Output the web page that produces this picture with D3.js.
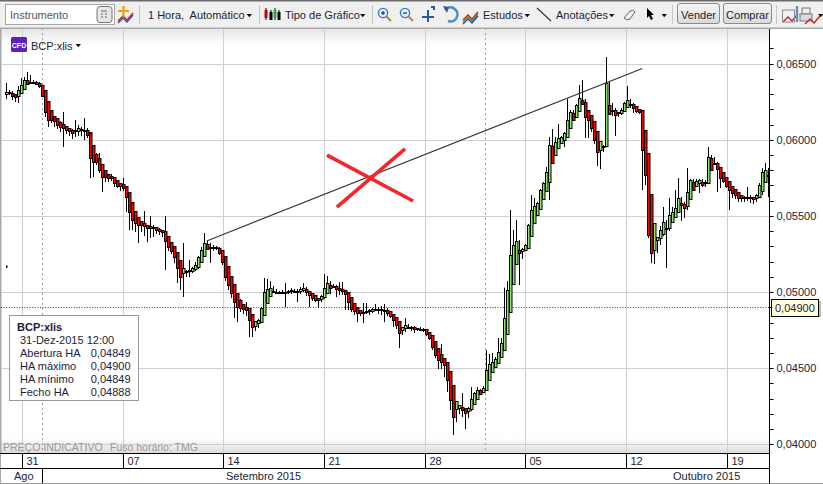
<!DOCTYPE html>
<html><head><meta charset="utf-8">
<script src="https://d3js.org/d3.v7.min.js"></script>
<style>html,body{margin:0;padding:0;background:#fff}svg{display:block}text{font-family:"Liberation Sans",sans-serif;font-size:11px;fill:#1c2433}</style>
</head><body><svg id="c" width="823" height="484"></svg>
<script>
// Closing prices in units of 0.00001 (one candle per slot)
const closes=[6314,6314,6288,6281,6327,6360,6393,6393,6380,6380,
6367,6353,6294,6183,6130,6124,6124,6097,6084,6078,
6064,6058,6045,6064,6078,6064,6064,6032,5880,5854,
5854,5802,5756,5756,5749,5749,5716,5697,5697,5683,
5624,5526,5473,5453,5440,5440,5434,5427,5421,5421,
5407,5401,5394,5335,5296,5270,5230,5158,5099,5125,
5131,5145,5158,5177,5230,5276,5322,5315,5296,5296,
5289,5263,5197,5099,5046,4994,4934,4902,4895,4888,
4888,4816,4770,4777,4816,4895,5000,5020,5026,5007,
5000,5000,5000,5000,5007,5013,5007,5000,5020,5026,
5000,4980,4961,4947,4947,4974,5026,5059,5046,5040,
5020,5013,5007,4987,4934,4888,4875,4862,4862,4869,
4875,4882,4888,4888,4888,4882,4882,4862,4842,4816,
4783,4731,4750,4783,4770,4764,4757,4757,4757,4750,
4724,4698,4639,4586,4553,4540,4520,4422,4291,4179,
4231,4238,4225,4205,4238,4297,4336,4356,4356,4369,
4488,4527,4540,4560,4606,4665,4829,5013,5243,5309,
5335,5276,5283,5309,5440,5539,5565,5585,5670,5716,
5788,5966,5959,5986,6012,6018,6045,6130,6183,6176,
6229,6275,6262,6150,6130,6078,5999,5920,5933,5959,
6373,6229,6196,6163,6176,6196,6242,6262,6229,6209,
6189,6183,5933,5769,5375,5256,5276,5342,5407,5460,
5421,5506,5526,5552,5618,5585,5552,5657,5736,5723,
5730,5736,5703,5723,5887,5880,5848,5802,5749,5730,
5697,5670,5651,5637,5618,5618,5624,5624,5618,5611,
5637,5703,5788,5802,5769];
// Upper wick above the body, lower wick below the body (same units)
const upperWicks=[59,13,7,7,26,46,20,53,33,13,
7,13,7,7,7,20,13,7,26,99,
7,13,13,66,20,7,79,13,7,7,
59,59,7,7,20,26,7,13,7,53,
7,7,7,7,7,13,92,7,72,20,
7,13,7,105,7,7,13,7,7,197,
13,66,7,20,7,20,66,13,7,13,
7,7,7,7,7,7,7,13,53,13,
46,7,7,7,7,7,92,66,46,13,
13,7,13,59,7,13,7,13,13,33,
7,7,7,7,7,7,92,46,13,7,
7,46,53,7,7,7,7,7,7,59,
53,7,7,33,13,20,40,13,7,7,
7,7,7,46,7,7,13,7,13,7,
7,7,7,7,7,105,13,7,7,7,
13,13,99,13,7,79,7,20,7,13,
131,66,59,13,92,33,200,59,296,99,
138,7,7,7,7,99,53,7,7,7,
33,53,105,33,92,7,7,138,13,13,
7,85,118,7,7,7,7,7,7,7,
171,7,13,13,7,13,7,92,7,13,
7,7,7,7,7,7,7,13,26,99,
13,112,33,118,131,7,7,158,7,7,
13,7,7,13,66,13,7,7,7,13,
7,7,13,7,13,7,7,66,13,7,
7,13,26,46,13];
const lowerWicks=[33,20,26,33,40,20,33,13,7,13,
7,13,13,33,46,13,40,26,33,125,
26,33,40,26,40,40,66,20,131,99,
20,20,99,33,26,20,26,13,33,20,
99,118,66,59,118,46,66,99,66,59,
26,26,33,190,26,20,40,99,85,131,
26,33,20,20,26,26,13,33,105,26,
13,20,20,26,33,33,105,99,26,33,
46,112,66,26,13,20,20,13,13,13,
7,13,13,99,13,20,13,66,13,20,
26,79,20,13,46,13,20,33,59,13,
53,33,26,105,53,20,26,59,20,66,
13,26,20,13,33,33,79,20,13,46,
26,99,13,13,13,20,26,13,13,13,
13,13,20,20,59,46,79,79,66,118,
33,33,46,105,33,20,20,13,20,20,
7,20,13,13,20,13,7,7,13,7,
7,230,59,7,20,7,7,7,7,13,
46,184,13,20,13,13,66,7,13,13,
7,7,7,138,118,26,26,92,112,13,
7,20,40,138,13,13,13,13,20,33,
13,13,263,66,20,66,72,20,33,40,
263,20,13,20,20,118,66,13,13,13,
7,79,13,13,13,7,13,145,66,13,
13,131,33,26,26,26,26,26,33,33,
20,20,66,13,145];
const dayLabels=["31","07","14","21","28","05","12","19"];
const daySlots=[5.5,39.17,72.5,106.17,139.83,173.33,206.67,240.5];
const dashedSlots=[12.17,159.83];
const priceMajor=[4000,4500,5000,5500,6000,6500];
const priceMinor=[4100,4200,4300,4400,4600,4700,4800,4900,5100,5200,5300,5400,5600,5700,5800,5900,6100,6200,6300,6400,6600];
const currentPrice=4900;
const trendSlots=[66.9,212.1], trendPrices=[5336,6468];
const crossA={s:[107,135.7],p:[5900,5598]}, crossB={s:[110.3,133],p:[5558,5940]};
const infoRows=[["Abertura HA","0,04849"],["HA máximo","0,04900"],["HA mínimo","0,04849"],["Fecho HA","0,04888"]];

const svg=d3.select("#c");
const x=d3.scaleLinear().domain([0,254]).range([6,768]);
const y=d3.scaleLinear().domain([4000,6500]).range([444.3,63.7]);
const fmt=v=>(v/1e5).toFixed(5).replace(".",",");
// Heikin-Ashi opens: midpoint of the previous body
let prevO=6320;
const bars=closes.map((c,i)=>{
  const pc=i?closes[i-1]:6300;
  const o=i?(prevO+pc)/2:pc; prevO=o;
  return {i,o,c,h:Math.max(pc,c)+upperWicks[i],l:Math.min(pc,c)-lowerWicks[i],up:c>pc};
});
const defs=svg.append("defs");
const grad=(id,a,b)=>{const g=defs.append("linearGradient").attr("id",id).attr("x1",0).attr("x2",0).attr("y1",0).attr("y2",1);g.append("stop").attr("offset",0).attr("stop-color",a);g.append("stop").attr("offset",1).attr("stop-color",b);};
grad("gt","#e4e4e4","#ffffff");grad("gb","#ffffff","#dcdcdc");grad("btn","#f6f6f6","#dadada");
defs.append("clipPath").attr("id","plot").append("rect").attr("x",1).attr("y",28).attr("width",768).attr("height",425);

// Background
svg.append("rect").attr("x",0).attr("y",28).attr("width",770).attr("height",17).attr("fill","url(#gt)");
svg.append("rect").attr("x",0).attr("y",438).attr("width",770).attr("height",15).attr("fill","url(#gb)");
svg.append("rect").attr("x",0).attr("y",28).attr("width",1.5).attr("height",456).attr("fill","#a8a8a8");

// Grid
const grid=svg.append("g").attr("stroke","#cfcfcf").attr("stroke-width",1);
grid.selectAll(".h").data(priceMajor).join("line").attr("x1",1).attr("x2",769).attr("y1",d=>Math.round(y(d))+.5).attr("y2",d=>Math.round(y(d))+.5);
grid.selectAll(".v").data(daySlots).join("line").attr("y1",28).attr("y2",453).attr("x1",d=>Math.floor(x(d))+.5).attr("x2",d=>Math.floor(x(d))+.5);
svg.append("g").attr("stroke","#a0a0a0").attr("stroke-dasharray","2,3").selectAll("line").data(dashedSlots).join("line")
 .attr("y1",28).attr("y2",453).attr("x1",d=>Math.floor(x(d))+.5).attr("x2",d=>Math.floor(x(d))+.5);

// Current price line
svg.append("line").attr("x1",1).attr("x2",769).attr("y1",Math.round(y(currentPrice))+.5).attr("y2",Math.round(y(currentPrice))+.5).attr("stroke","#c00000").attr("stroke-dasharray","1,1.6");

// Candles
const cg=svg.append("g").attr("clip-path","url(#plot)");
const cs=cg.selectAll("g").data(bars).join("g");
cs.append("line").attr("x1",d=>Math.round(x(d.i))+.5).attr("x2",d=>Math.round(x(d.i))+.5).attr("y1",d=>y(d.h)).attr("y2",d=>y(d.l)).attr("stroke","#000");
cs.append("rect").attr("x",d=>Math.round(x(d.i))-.5).attr("width",2.5)
 .attr("y",d=>Math.round(y(Math.max(d.o,d.c)))+.5).attr("height",d=>Math.max(1,Math.round(Math.abs(y(d.o)-y(d.c)))))
 .attr("fill",d=>d.up?"#8ce868":"#ff0000").attr("stroke","#000");
svg.append("rect").attr("x",x(0)).attr("y",y(5175)).attr("width",1.5).attr("height",2.5).attr("fill","#000");

// Annotations
svg.append("line").attr("x1",x(trendSlots[0])).attr("x2",x(trendSlots[1])).attr("y1",y(trendPrices[0])).attr("y2",y(trendPrices[1])).attr("stroke","#333").attr("stroke-width",1.1);
[crossA,crossB].forEach(k=>svg.append("line").attr("x1",x(k.s[0])).attr("x2",x(k.s[1])).attr("y1",y(k.p[0])).attr("y2",y(k.p[1])).attr("stroke","#f4262c").attr("stroke-width",3.6));

// Y axis
const ax=d3.axisRight(y).tickValues(priceMajor).tickFormat(fmt).tickSize(4).tickPadding(3);
const axg=svg.append("g").attr("transform","translate(769.5,0)").call(ax);
axg.select(".domain").remove();
axg.selectAll("line").attr("stroke","#000");
axg.selectAll("text").attr("x",7).style("font-size","11px").style("font-family","Liberation Sans");
axg.selectAll(".tick").attr("transform",d=>`translate(0,${Math.round(y(d))+.5})`);
svg.append("g").attr("transform","translate(769.5,0)").selectAll("line").data(priceMinor).join("line")
 .attr("x1",0).attr("x2",4).attr("y1",d=>Math.round(y(d))+.5).attr("y2",d=>Math.round(y(d))+.5).attr("stroke","#000");
svg.append("line").attr("x1",769.5).attr("x2",769.5).attr("y1",28).attr("y2",484).attr("stroke","#000");

// Price flag
svg.append("rect").attr("x",771.5).attr("y",299.5).attr("width",47).attr("height",17).attr("fill","#ffffdc").attr("stroke","#000");
svg.append("rect").attr("x",819).attr("y",301).attr("width",2).attr("height",16).attr("fill","#bbb");
svg.append("text").attr("x",775).attr("y",312).text(fmt(currentPrice));

// Date strips
svg.append("rect").attr("x",1).attr("y",453).attr("width",768).attr("height",31).attr("fill","#fff");
[453.5,468.5].forEach(v=>svg.append("line").attr("x1",0).attr("x2",769).attr("y1",v).attr("y2",v).attr("stroke","#000"));
svg.append("line").attr("x1",0).attr("x2",823).attr("y1",483.5).attr("y2",483.5).attr("stroke","#999");
svg.append("line").attr("x1",769.5).attr("x2",769.5).attr("y1",453).attr("y2",484).attr("stroke","#000");
const dayG=svg.append("g").selectAll("g").data(daySlots).join("g").attr("transform",d=>`translate(${Math.floor(x(d))+.5},0)`);
dayG.append("line").attr("y1",453).attr("y2",468).attr("stroke","#000");
dayG.append("text").attr("x",4).attr("y",465).text((d,i)=>dayLabels[i]);
svg.append("line").attr("x1",42.5).attr("x2",42.5).attr("y1",468).attr("y2",483).attr("stroke","#000");
svg.append("text").attr("x",14).attr("y",480).text("Ago");
svg.append("text").attr("x",226).attr("y",480).text("Setembro 2015");
svg.append("text").attr("x",673).attr("y",480).text("Outubro 2015");
svg.append("text").attr("x",3).attr("y",451).style("fill","#9a9a9a").style("font-size","10.5px").text("PREÇO INDICATIVO");
svg.append("text").attr("x",110).attr("y",451).style("fill","#9a9a9a").style("font-size","10.5px").text("Fuso horário: TMG");

// Info box
svg.append("rect").attr("x",9.5).attr("y",315.5).attr("width",129).attr("height",85).attr("fill","#fff").attr("stroke","#999");
svg.append("text").attr("x",17).attr("y",331).style("font-weight","bold").text("BCP:xlis");
svg.append("text").attr("x",20).attr("y",344).text("31-Dez-2015 12:00");
infoRows.forEach((r,i)=>{const b=357+i*13;
 svg.append("text").attr("x",20).attr("y",b).text(r[0]);
 svg.append("text").attr("x",130.5).attr("y",b).attr("text-anchor","end").text(r[1]);});

// Series header
svg.append("rect").attr("x",11).attr("y",37).attr("width",16).attr("height",15).attr("rx",1.5).attr("fill","#5a22b8");
svg.append("text").attr("x",19).attr("y",47.5).attr("text-anchor","middle").style("fill","#fff").style("font-size","7px").style("font-weight","bold").text("CFD");
svg.append("text").attr("x",31).attr("y",50).text("BCP:xlis");
const tri=(px,py)=>svg.append("path").attr("d",`M${px},${py}h5.5l-2.75,3.2z`).attr("fill","#111");
tri(75.5,44);

// Toolbar
svg.append("rect").attr("width",823).attr("height",28).attr("fill","#f0f0f0");
svg.append("rect").attr("width",823).attr("height",1.5).attr("fill","#6a6a6a");
svg.append("rect").attr("y",27.5).attr("width",823).attr("height",1.5).attr("fill","#a9a9a9");
svg.append("rect").attr("x",5.5).attr("y",4.5).attr("width",109).attr("height",20).attr("fill","#fff").attr("stroke","#a8a8a8");
svg.append("text").attr("x",10).attr("y",19).style("fill","#555").text("Instrumento");
svg.append("rect").attr("x",97).attr("y",6.5).attr("width",15).attr("height",16).attr("rx",3).attr("fill","#e6e6e6").attr("stroke","#777");
svg.append("path").attr("d","M101,14h2M105,14h2M101,17h2M105,17h2M101,11h6").attr("stroke","#666");
[139.5,259.5,372.5,672.5,776.5].forEach(v=>svg.append("line").attr("x1",v).attr("x2",v).attr("y1",5).attr("y2",24).attr("stroke","#c8c8c8"));
const labels=[["1 Hora,  Automático",148],["Tipo de Gráfico",285],["Estudos",483],["Anotações",556]];
labels.forEach(l=>svg.append("text").attr("x",l[1]).attr("y",19).style("white-space","pre").text(l[0]));
[[246.5,14],[360,14],[524.5,14],[609,14],[661.5,14],[818,14]].forEach(t=>tri(t[0],t[1]));
// small chart icons
const zig=(px,py,c)=>svg.append("polyline").attr("points",`${px},${py} ${px+5},${py-5} ${px+9},${py-1} ${px+15},${py-8}`).attr("fill","none").attr("stroke",c).attr("stroke-width",1.4);
zig(118,21,"#c22");zig(118,23,"#2a50a8");
svg.append("path").attr("d","M118,11h11M123.5,6v11").attr("stroke","#e8a400").attr("stroke-width",2.2);
zig(463,20,"#c22");zig(463,22,"#3a9a40");zig(463,24,"#2a50a8");
[[266,"#c00"],[271,"#000"],[275,"#3a3"],[279,"#000"]].forEach((t,i)=>{
 svg.append("line").attr("x1",t[0]).attr("x2",t[0]).attr("y1",8+(i%2)*2).attr("y2",20).attr("stroke","#000");
 svg.append("rect").attr("x",t[0]-1.5).attr("y",10+(i%2)*2).attr("width",3).attr("height",8).attr("fill",t[1]);});
const lens=(px,c)=>{svg.append("circle").attr("cx",px+5).attr("cy",13).attr("r",4.6).attr("fill","#dff0ff").attr("stroke",c).attr("stroke-width",1.4);
 svg.append("line").attr("x1",px+8.5).attr("y1",16.5).attr("x2",px+13).attr("y2",21).attr("stroke","#b08a3a").attr("stroke-width",2);
 svg.append("path").attr("d",`M${px+3},13h4`).attr("stroke","#1a3f9a").attr("stroke-width",1.3);};
lens(378,"#3a78c8");svg.append("path").attr("d","M383,11v4").attr("stroke","#1a3f9a").attr("stroke-width",1.3);lens(400,"#3a78c8");
svg.append("path").attr("d","M422,17h12M428,10v12M431,7h3v3").attr("stroke","#2a5aa0").attr("stroke-width",2).attr("fill","none");
svg.append("path").attr("d","M445,10a7,7 0 1 1 3,11").attr("stroke","#4a90c8").attr("stroke-width",2.6).attr("fill","none");
svg.append("path").attr("d","M443,6l6,1l-2,6z").attr("fill","#2a5aa0");
svg.append("line").attr("x1",537).attr("y1",8).attr("x2",551).attr("y2",21).attr("stroke","#334").attr("stroke-width",1.2);
svg.append("path").attr("d","M624,18l6,-7q3,-2 5,1l-5,7q-3,2 -6,-1z").attr("fill","#eee").attr("stroke","#667");
svg.append("path").attr("d","M647,8l7,7h-3l2,4l-2,1l-2,-4l-2,2z").attr("fill","#000");
const btn=(px,w,t)=>{svg.append("rect").attr("x",px+.5).attr("y",3.5).attr("width",w).attr("height",20).attr("rx",2.5).attr("fill","url(#btn)").attr("stroke","#8a8a8a");
 svg.append("text").attr("x",px+.5+w/2).attr("y",19).attr("text-anchor","middle").text(t);};
btn(677,42,"Vender");btn(723,48,"Comprar");
zig(783,22,"#c22");
svg.append("rect").attr("x",782.5).attr("y",10).attr("width",12).attr("height",12).attr("fill","none").attr("stroke","#889");
svg.append("path").attr("d","M797,6v16").attr("stroke","#6a90b8").attr("stroke-width",2.4);
svg.append("rect").attr("x",802).attr("y",8).attr("width",8).attr("height",6).attr("fill","#eee").attr("stroke","#778");
svg.append("rect").attr("x",800).attr("y",14).attr("width",12).attr("height",7).attr("fill","#ddd").attr("stroke","#778");
zig(805,24,"#c22");
</script></body></html>
